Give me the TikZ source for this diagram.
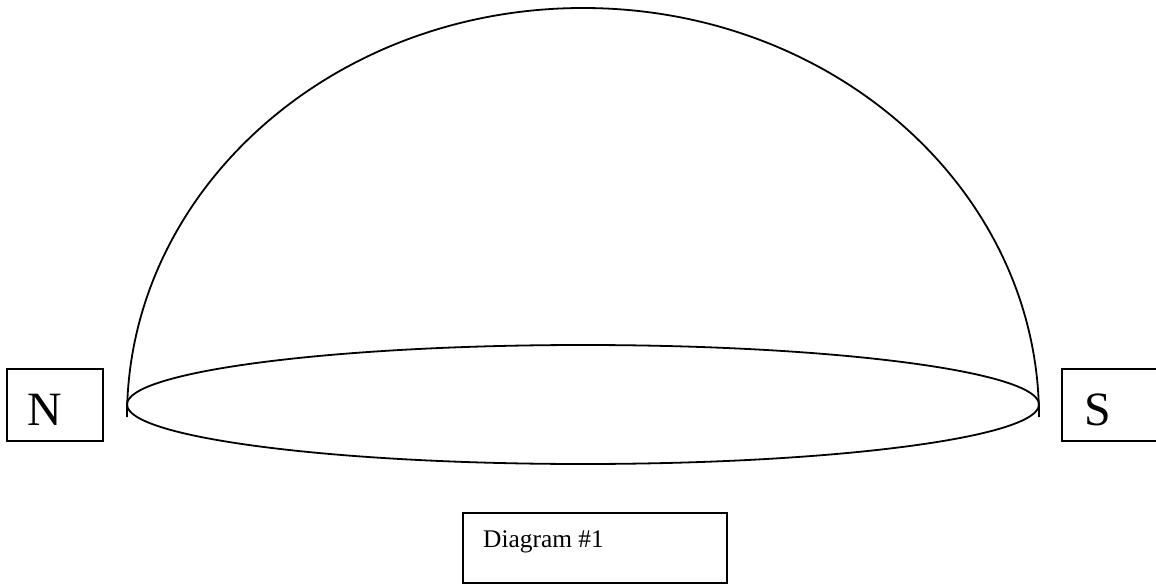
\documentclass[tikz,border=0pt]{standalone}
\usepackage{fontspec}
\setmainfont{Liberation Serif}
\begin{document}
\begin{tikzpicture}[x=1bp,y=-1bp,
  curve/.style={line width=1.8bp},
  boxline/.style={draw, line width=1.5bp},
  big/.style={font=\fontsize{48}{48}\selectfont, inner sep=0pt},
  small/.style={font=\fontsize{25.5}{30}\selectfont, inner sep=0pt}]
\useasboundingbox (0,0) rectangle (1156,585);
\clip (0,0) rectangle (1156,585);
\fill[white] (0,0) rectangle (1156,585);
% dome and base ellipse
\draw[curve] (127,417) arc[start angle=180, end angle=360, x radius=456, y radius=409];
\draw[curve] (583,404.5) ellipse[x radius=456, y radius=59.5];
% N box
\draw[boxline] (7,369) rectangle (103,441);
\node[big, anchor=base west] (n) at (27,425) {N};
% S box
\draw[boxline] (1062,369) rectangle (1162,441);
\node[big, anchor=base west] (s) at (1084,425) {S};
% caption box
\draw[boxline] (463,513) rectangle (727,583);
\node[small, anchor=base west] (cap) at (483,547) {Diagram \#1};
\end{tikzpicture}
\end{document}
